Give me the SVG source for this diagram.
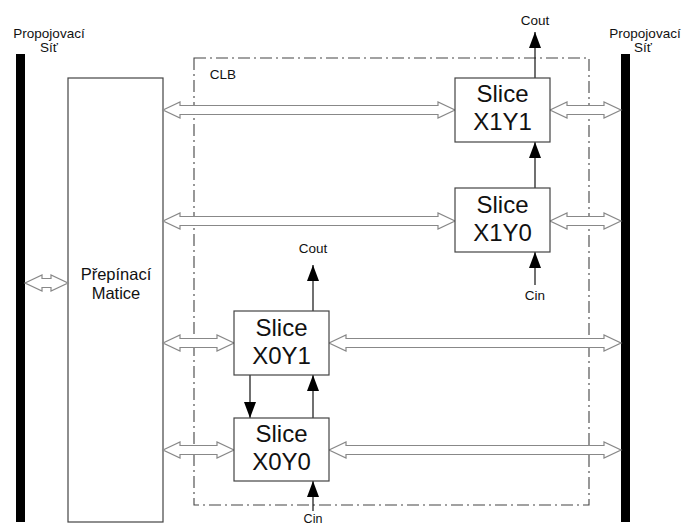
<svg xmlns="http://www.w3.org/2000/svg" width="682" height="528" viewBox="0 0 682 528">
<style>
text{font-family:"Liberation Sans",Arial,sans-serif;fill:#111;text-anchor:middle}
.lbl{font-size:13.5px}
.big{font-size:24px}
.mid{font-size:16.5px}
.box{fill:#fff;stroke:#444;stroke-width:1.2}
.bar{fill:#000}
.clb{fill:none;stroke:#444;stroke-width:1.1;stroke-dasharray:12 4 2 4}
.bus{fill:#fff;stroke:#888;stroke-width:1.2;stroke-linejoin:miter}
.sig{stroke:#111;stroke-width:1.2;fill:none;marker-end:url(#ah)}
</style>
<defs>
<marker id="ah" markerUnits="userSpaceOnUse" markerWidth="16" markerHeight="12" viewBox="0 0 16 12" refX="16" refY="6" orient="auto">
<path d="M16 6 L0 0 L0 12 Z" fill="#000"/>
</marker>
</defs>
<rect width="682" height="528" fill="#fff"/>
<g id="site-left">
<rect class="bar" x="16" y="54" width="9" height="468"/>
<text class="lbl" x="49" y="38">Propojovací</text>
<text class="lbl" x="49" y="52">Síť</text>
</g>
<g id="site-right">
<rect class="bar" x="621" y="54" width="9" height="468"/>
<text class="lbl" x="645" y="38">Propojovací</text>
<text class="lbl" x="643" y="52">Síť</text>
</g>
<g id="clb">
<rect class="clb" x="194" y="58" width="395" height="447"/>
<text class="lbl" x="223" y="79">CLB</text>
</g>
<g id="matrix">
<rect class="box" x="68" y="78" width="95" height="444"/>
<text class="mid" x="116" y="280">Přepínací</text>
<text class="mid" x="116" y="299">Matice</text>
</g>
<g id="connectors">
<polygon class="bus" points="25,283 42,275 42,278.5 51,278.5 51,275 68,283 51,291 51,287.5 42,287.5 42,291"/>
<polygon class="bus" points="163,110 180,102 180,105.5 438,105.5 438,102 455,110 438,118 438,114.5 180,114.5 180,118"/>
<polygon class="bus" points="550,110 567,102 567,105.5 604,105.5 604,102 621,110 604,118 604,114.5 567,114.5 567,118"/>
<polygon class="bus" points="163,221 180,213 180,216.5 438,216.5 438,213 455,221 438,229 438,225.5 180,225.5 180,229"/>
<polygon class="bus" points="550,221 567,213 567,216.5 604,216.5 604,213 621,221 604,229 604,225.5 567,225.5 567,229"/>
<polygon class="bus" points="163,343 180,335 180,338.5 217,338.5 217,335 234,343 217,351 217,347.5 180,347.5 180,351"/>
<polygon class="bus" points="329,343 346,335 346,338.5 604,338.5 604,335 621,343 604,351 604,347.5 346,347.5 346,351"/>
<polygon class="bus" points="163,450 180,442 180,445.5 217,445.5 217,442 234,450 217,458 217,454.5 180,454.5 180,458"/>
<polygon class="bus" points="329,450 346,442 346,445.5 604,445.5 604,442 621,450 604,458 604,454.5 346,454.5 346,458"/>
<line class="sig" x1="535" y1="78" x2="535" y2="32"/>
<line class="sig" x1="535" y1="188" x2="535" y2="142"/>
<line class="sig" x1="535" y1="285" x2="535" y2="252"/>
<line class="sig" x1="313" y1="311" x2="313" y2="265"/>
<line class="sig" x1="313" y1="418" x2="313" y2="375"/>
<line class="sig" x1="250" y1="375" x2="250" y2="418"/>
<line class="sig" x1="313" y1="511" x2="313" y2="481"/>
<text class="lbl" x="535" y="25">Cout</text>
<text class="lbl" x="535" y="300">Cin</text>
<text class="lbl" x="313" y="253">Cout</text>
<text x="313" y="523" style="font-size:12.5px">Cin</text>
</g>
<g id="slice-x1y1">
<rect class="box" x="455" y="78" width="95" height="64"/>
<text class="big" x="502.5" y="102">Slice</text>
<text class="big" x="502.5" y="130">X1Y1</text>
</g>
<g id="slice-x1y0">
<rect class="box" x="455" y="188" width="95" height="64"/>
<text class="big" x="502.5" y="213">Slice</text>
<text class="big" x="502.5" y="241">X1Y0</text>
</g>
<g id="slice-x0y1">
<rect class="box" x="234" y="311" width="95" height="64"/>
<text class="big" x="281.5" y="336">Slice</text>
<text class="big" x="281.5" y="364">X0Y1</text>
</g>
<g id="slice-x0y0">
<rect class="box" x="234" y="418" width="95" height="63"/>
<text class="big" x="281.5" y="442">Slice</text>
<text class="big" x="281.5" y="470">X0Y0</text>
</g>
</svg>
